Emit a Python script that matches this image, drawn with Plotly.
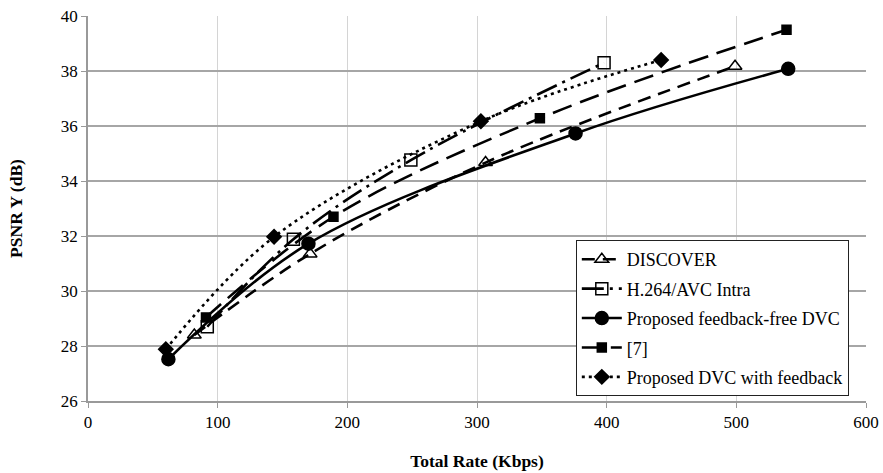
import plotly.graph_objects as go

# Rate (Kbps) / PSNR-Y (dB) operating points for each codec
discover_rate = [82, 171.3, 306.6, 499]
discover_psnr = [28.4, 31.35, 34.67, 38.17]

h264_rate = [92, 158.4, 249, 398]
h264_psnr = [28.7, 31.88, 34.76, 38.3]

ffdvc_rate = [62, 170, 376, 540]
ffdvc_psnr = [27.52, 31.72, 35.73, 38.08]

ref7_rate = [91, 189.3, 348.5, 538.7]
ref7_psnr = [29.04, 32.7, 36.28, 39.5]

fbdvc_rate = [60, 143.5, 303, 442]
fbdvc_psnr = [27.88, 31.97, 36.17, 38.4]

x_ticks = [0, 100, 200, 300, 400, 500, 600]
y_ticks = [26, 28, 30, 32, 34, 36, 38, 40]

series = [
    ("DISCOVER", discover_rate, discover_psnr, "13px,8px", "triangle-up-open", 12),
    ("H.264/AVC Intra", h264_rate, h264_psnr, "22px,6px,3px,6px", "square-open", 12),
    ("Proposed feedback-free DVC", ffdvc_rate, ffdvc_psnr, "solid", "circle", 13),
    ("[7]", ref7_rate, ref7_psnr, "20px,9px", "square", 9),
    ("Proposed DVC with feedback", fbdvc_rate, fbdvc_psnr, "3px,4px", "diamond", 11),
]

fig = go.Figure()
for i, (name, xs, ys, dash, sym, size) in enumerate(series):
    fig.add_trace(go.Scatter(
        x=xs, y=ys, name=name, mode="lines+markers",
        legendgroup=f"g{i}",
        line=dict(color="black", width=2.6, dash=dash, shape="spline", smoothing=1),
        marker=dict(symbol=sym, size=size, color="black",
                    line=dict(color="black", width=1.5)),
    ))

serif = "Liberation Serif, Times New Roman, serif"

fig.update_layout(
    width=883, height=473,
    margin=dict(l=88, r=17, t=16, b=72),
    paper_bgcolor="white", plot_bgcolor="white",
    font=dict(family=serif, size=17, color="black"),
    showlegend=True,
    legend=dict(
        x=0.627, y=0.418, xanchor="left", yanchor="top",
        bgcolor="white", bordercolor="#222", borderwidth=1,
        font=dict(family=serif, size=18, color="black"),
        traceorder="grouped", tracegroupgap=3,
        itemwidth=40,
    ),
    xaxis=dict(
        range=[0, 600], tickvals=x_ticks, ticks="outside", ticklen=5,
        tickcolor="#999", showgrid=True, gridcolor="#d4d4d4", gridwidth=1,
        showline=True, linecolor="#999", linewidth=1.5, zeroline=False,
        automargin=False,
        title=dict(text="<b>Total Rate (Kbps)</b>", font=dict(family=serif, size=17.5), standoff=24),
        tickfont=dict(family=serif, size=17),
    ),
    yaxis=dict(
        range=[26, 40], tickvals=y_ticks, ticks="outside", ticklen=5,
        tickcolor="#999", showgrid=True, gridcolor="#a6a6a6", gridwidth=1.5,
        showline=True, linecolor="#999", linewidth=1.5, zeroline=False,
        automargin=False,
        title=dict(text="<b>PSNR Y (dB)</b>", font=dict(family=serif, size=17.5), standoff=34),
        tickfont=dict(family=serif, size=17),
    ),
)

fig.write_html("out.html")
